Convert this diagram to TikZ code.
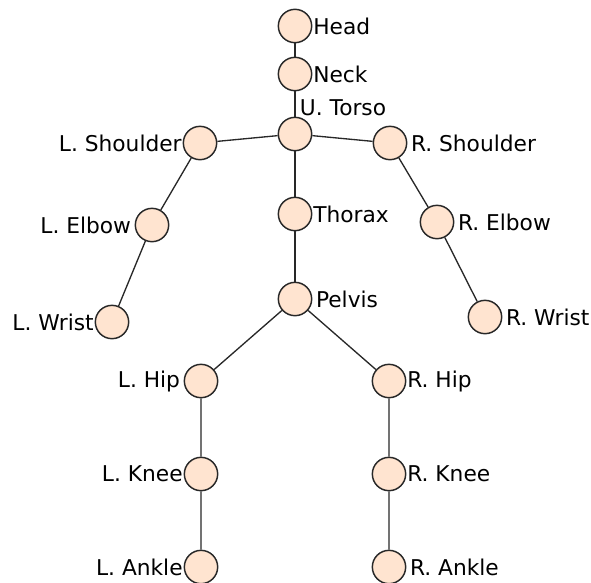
\documentclass[tikz,border=0pt]{standalone}
\usepackage{fontspec}
\setmainfont{DejaVu Sans}
\definecolor{jointfill}{RGB}{255,228,208}
\definecolor{jointline}{RGB}{40,40,40}
\tikzset{
  joint/.style={circle, draw=jointline, fill=jointfill, line width=1.1pt,
    minimum size=25pt, inner sep=0pt},
  bone/.style={draw=jointline, line width=1pt},
  tight/.style={inner sep=0.5pt},
  every label/.style={inner sep=2.5pt, font=\fontsize{16.3}{19}\selectfont},
}
\begin{document}
\begin{tikzpicture}[x=0.75pt, y=-0.75pt]
  \useasboundingbox (0,0) rectangle (591,582);
  % spine
  \node[joint, label={[tight]right:Head}] (head) at (295, 26) {};
  \node[joint, label={[tight]right:Neck}] (neck) at (295, 74) {};
  \node[joint, label={[tight, anchor=south west, xshift=3pt]north:U. Torso}] (torso) at (295, 134) {};
  \node[joint, label={[tight]right:Thorax}] (thorax) at (295, 214) {};
  \node[joint, label={right:Pelvis}] (pelvis) at (295, 299) {};
  % arms
  \node[joint, label={[tight]left:L. Shoulder}] (lshoulder) at (200, 143) {};
  \node[joint, label={right:R. Shoulder}] (rshoulder) at (390, 143) {};
  \node[joint, label={left:L. Elbow}] (lelbow) at (152, 225) {};
  \node[joint, label={right:R. Elbow}] (relbow) at (437, 222) {};
  \node[joint, label={[tight]left:L. Wrist}] (lwrist) at (112, 322) {};
  \node[joint, label={right:R. Wrist}] (rwrist) at (485, 317) {};
  % legs
  \node[joint, label={left:L. Hip}] (lhip) at (201, 381) {};
  \node[joint, label={[tight]right:R. Hip}] (rhip) at (389, 381) {};
  \node[joint, label={[tight]left:L. Knee}] (lknee) at (201, 474) {};
  \node[joint, label={[tight]right:R. Knee}] (rknee) at (389, 474) {};
  \node[joint, label={[tight]left:L. Ankle}] (lankle) at (201, 567) {};
  \node[joint, label={right:R. Ankle}] (rankle) at (389, 567) {};
  % bones
  \draw[bone] (head) -- (neck) -- (torso) -- (thorax) -- (pelvis);
  \draw[bone] (torso) -- (lshoulder) -- (lelbow) -- (lwrist);
  \draw[bone] (torso) -- (rshoulder) -- (relbow) -- (rwrist);
  \draw[bone] (pelvis) -- (lhip) -- (lknee) -- (lankle);
  \draw[bone] (pelvis) -- (rhip) -- (rknee) -- (rankle);
\end{tikzpicture}
\end{document}
